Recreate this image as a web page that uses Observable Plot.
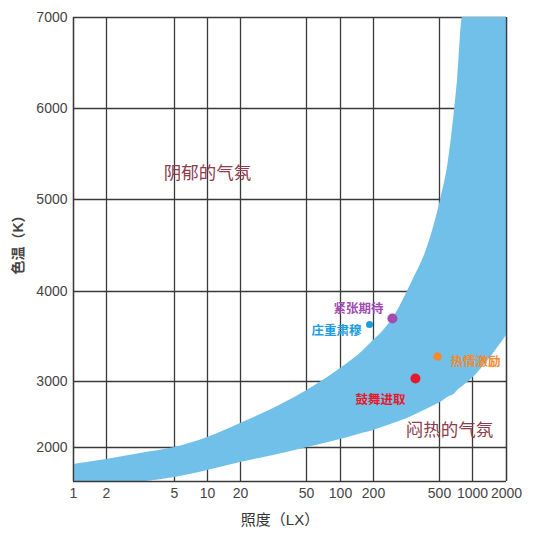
<!DOCTYPE html>
<html><head><meta charset="utf-8">
<script src="https://cdn.jsdelivr.net/npm/d3@7"></script>
<script src="https://cdn.jsdelivr.net/npm/@observablehq/plot@0.6"></script>
<style>
html,body{margin:0;padding:0;background:#fff;}
</style></head><body><div id="chart"></div>
<script>
// Tick values
const xTicks = [1, 2, 5, 10, 20, 50, 100, 200, 500, 1000, 2000];
const yTicks = [2000, 3000, 4000, 5000, 6000, 7000];
const yBottom = 1500;

// Comfort band (Kruithof): illuminance (lx) and color temperature limits (K)
const bandLux    = [1, 2, 3.16, 5, 10, 20, 31.6, 50, 100, 160, 200, 230, 280, 320, 345, 416, 460, 510, 604, 688, 734, 812, 1000, 1440, 2000];
const bandUpperK = [1750, 1824, 1912, 2000, 2152, 2364, 2591, 2860, 3144, 3340, 3456, 3567, 3790, 4000, 4120, 4446, 4696, 4990, 5429, 6000, 6341, 7000, 7000, 7000, 7000];
const bandLowerK = [1400, 1440, 1490, 1559, 1662, 1779, 1882, 1995, 2121, 2217, 2258, 2311, 2386, 2439, 2476, 2577, 2630, 2682, 2767, 2812, 2867, 2926, 3036, 3267, 3511];

// Mood points
const moodNames = ["紧张期待", "庄重肃穆", "热情激励", "鼓舞进取"];
const moodLux = [260, 184, 486, 358];
const moodK = [3700, 3633, 3278, 3033];

// Zone labels
const zoneNames = ["阴郁的气氛", "闷热的气氛"];
const zoneLux = [10, 616];
const zoneK = [5286, 2258];

// Styling (not data)
const moodStyles = [
  {color: "#A04CB0", r: 5,   dx: -9,  dy: -10, anchor: "end"},
  {color: "#1C9CE2", r: 3.5, dx: -8,  dy: 6,   anchor: "end"},
  {color: "#F5892C", r: 4.2, dx: 13,  dy: 6,   anchor: "start"},
  {color: "#E6192B", r: 5,   dx: -10, dy: 21,  anchor: "end"}
];
const gridStyle = {stroke: "#3a3a3a", strokeOpacity: 1, strokeWidth: 1.3};

const band = bandLux.map((x, i) => ({x, lo: bandLowerK[i], hi: bandUpperK[i]}));
const moods = moodNames.map((name, i) => ({name, lux: moodLux[i], k: moodK[i]}));
const zones = zoneNames.map((name, i) => ({name, lux: zoneLux[i], k: zoneK[i]}));

const fmt = d => String(d);

const plot = Plot.plot({
  width: 554,
  height: 537,
  marginLeft: 73, marginRight: 48, marginTop: 17, marginBottom: 56,
  style: {fontFamily: '"Liberation Sans","Noto Sans CJK SC",sans-serif', background: "#fff"},
  x: {type: "log", domain: xTicks, range: [73, 106, 174, 207, 240, 306, 340, 373, 439, 472, 506], axis: null},
  y: {type: "linear", domain: [yBottom, ...yTicks], range: [481, 447, 381, 291, 199, 108, 17], axis: null},
  marks: [
    Plot.gridX(xTicks, gridStyle),
    Plot.gridY(yTicks, gridStyle),
    Plot.areaY(band, {x: "x", y1: "lo", y2: "hi", fill: "#70C0EA", curve: "monotone-x", clip: true}),
    Plot.ruleX([xTicks[0], xTicks[xTicks.length - 1]], gridStyle),
    Plot.ruleY([yBottom], gridStyle),
    // x tick labels
    Plot.text(xTicks, {x: d => d, text: fmt, frameAnchor: "bottom", lineAnchor: "top", dy: 7, fontSize: 14, fill: "#444"}),
    // y tick labels
    Plot.text(yTicks, {y: d => d, text: fmt, frameAnchor: "left", textAnchor: "end", lineAnchor: "middle", dx: -6, fontSize: 14, fill: "#444"}),
    Plot.text(["照度（LX）"], {frameAnchor: "bottom", lineAnchor: "middle", textAnchor: "middle", dx: -10, dy: 39, fontSize: 15, fill: "#333"}),
    Plot.text(["色温（K）"], {frameAnchor: "left", textAnchor: "middle", lineAnchor: "middle", dx: -55, dy: -8, rotate: -90, fontSize: 14, fontWeight: "bold", fill: "#444"}),
    Plot.text(zones, {x: "lux", y: "k", text: "name", fill: "#8C3C4C", fontSize: 17.5}),
    ...moods.flatMap((m, i) => {
      const s = moodStyles[i];
      return [
        Plot.dot([m], {x: "lux", y: "k", r: s.r, fill: s.color}),
        Plot.text([m], {x: "lux", y: "k", text: "name", dx: s.dx, dy: s.dy, textAnchor: s.anchor, fill: s.color, fontSize: 12.5, fontWeight: "bold"})
      ];
    })
  ]
});
document.getElementById("chart").appendChild(plot);
</script>
</body></html>
